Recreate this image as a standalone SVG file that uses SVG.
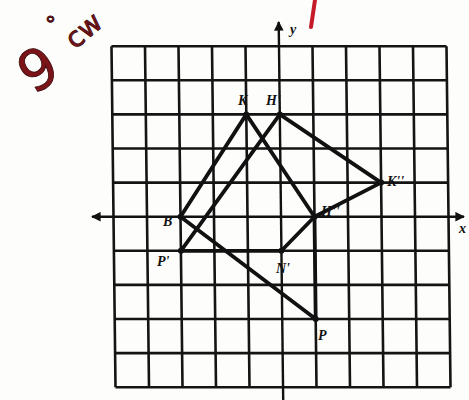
<svg xmlns="http://www.w3.org/2000/svg" width="469" height="400" viewBox="0 0 469 400">
<defs>
<style>
.grid{stroke:#141414;stroke-width:2.6;fill:none}
.axis{stroke:#111;stroke-width:2.4;fill:none}
.shape{stroke:#111;stroke-width:3.8;fill:none;stroke-linejoin:round;stroke-linecap:round}
.lbl{font-family:"Liberation Serif",serif;font-style:italic;font-weight:bold;font-size:14px;fill:#111}
.red{font-family:"DejaVu Sans",sans-serif;fill:#7a1418;stroke:#3a0608;stroke-width:0.8}
</style>
<marker id="ah" viewBox="0 0 10 10" refX="9" refY="5" markerWidth="4" markerHeight="4" orient="auto-start-reverse">
<path d="M0,0 L10,5 L0,10 z" fill="#111"/>
</marker>
</defs>
<rect width="469" height="400" fill="#fdfdfb"/>
<g id="handwriting">
<text class="red" font-size="56" text-anchor="middle" transform="translate(48,86) rotate(-31)">9</text>
<text class="red" font-size="22" x="45" y="32">°</text>
<text class="red" font-size="28" transform="translate(75,50) rotate(-40)">cw</text>
<line x1="311" y1="27" x2="315" y2="0" stroke="#c41a2a" stroke-width="4" stroke-linecap="round"/>
</g>
<g id="grid">
<path class="grid" d="M111.5,46.2 L115.5,387.2 M145,46.2 L149,387.2 M178.5,46.2 L182.5,387.2 M212,46.2 L216,387.2 M245.5,46.2 L249.5,387.2 M312.5,46.2 L316.5,387.2 M346,46.2 L350,387.2 M379.5,46.2 L383.5,387.2 M413,46.2 L417,387.2 M446.5,46.2 L450.5,387.2"/>
<path class="grid" d="M111.5,46.2 H446.5 M111.9,80.3 H446.9 M112.3,114.4 H447.3 M112.7,148.5 H447.7 M113.1,182.6 H448.1 M113.9,250.8 H448.9 M114.3,284.9 H449.3 M114.7,319 H449.7 M115.1,353.1 H450.1 M115.5,387.2 H450.5"/>
</g>
<g id="axes">
<line class="axis" x1="92" y1="216.7" x2="464" y2="216.7" marker-start="url(#ah)" marker-end="url(#ah)"/>
<line class="axis" x1="283.2" y1="400" x2="278.7" y2="22" marker-end="url(#ah)"/>
<text class="lbl" x="290" y="34" font-size="12">y</text>
<text class="lbl" x="459" y="233" font-size="12">x</text>
</g>
<g id="connectors">
<polygon class="shape" points="246.3,114.4 180.5,216.7 315.7,319 314.5,216.7"/>
<polygon class="shape" points="279.8,114.4 381.1,182.6 314.5,216.7 281.4,250.8 180.9,250.8"/>
</g>
<g id="node-K"><circle cx="246.3" cy="114.4" r="3" fill="#111"/><text class="lbl" x="238" y="105">K</text></g>
<g id="node-H"><circle cx="279.8" cy="114.4" r="3" fill="#111"/><text class="lbl" x="266" y="105">H'</text></g>
<g id="node-K2"><circle cx="381.1" cy="182.6" r="3" fill="#111"/><text class="lbl" x="387" y="186" font-size="12">K''</text></g>
<g id="node-H2"><circle cx="314.5" cy="216.7" r="3" fill="#111"/><text class="lbl" x="321" y="216" font-size="13">H''</text></g>
<g id="node-B"><circle cx="180.5" cy="216.7" r="3" fill="#111"/><text class="lbl" x="163" y="226">B</text></g>
<g id="node-P1"><circle cx="180.9" cy="250.8" r="3" fill="#111"/><text class="lbl" x="157" y="266">P'</text></g>
<g id="node-N1"><circle cx="281.4" cy="250.8" r="3" fill="#111"/><text class="lbl" x="276" y="273">N'</text></g>
<g id="node-P"><circle cx="315.7" cy="319" r="3" fill="#111"/><text class="lbl" x="318" y="340">P</text></g>
</svg>
